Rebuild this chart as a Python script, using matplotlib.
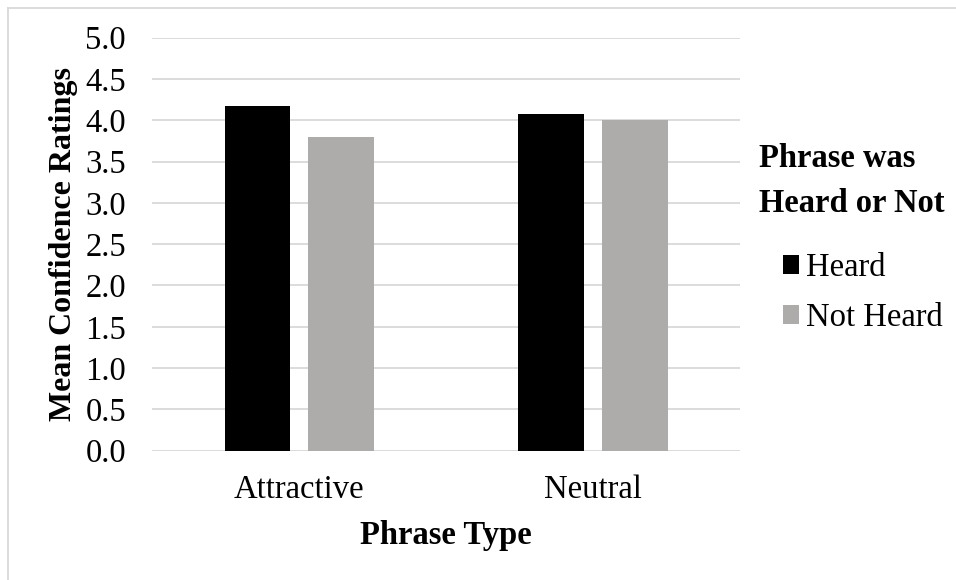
import matplotlib
matplotlib.use("Agg")
import matplotlib.pyplot as plt
from matplotlib.lines import Line2D
import numpy as np

categories = ["Attractive", "Neutral"]
series_names = ["Heard", "Not Heard"]
heard = [4.17, 4.08]
not_heard = [3.80, 4.00]
y_ticks = [0.0, 0.5, 1.0, 1.5, 2.0, 2.5, 3.0, 3.5, 4.0, 4.5, 5.0]
legend_title = ["Phrase was", "Heard or Not"]

plt.rcParams["font.family"] = ["Liberation Serif", "DejaVu Serif"]

W, H = 956, 580
fig = plt.figure(figsize=(W / 100, H / 100), dpi=100)
ax_left, ax_right, ax_top, ax_bottom = 152.3, 740.0, 37.7, 450.7
ax = fig.add_axes([ax_left / W, 1 - ax_bottom / H, (ax_right - ax_left) / W, (ax_bottom - ax_top) / H])

x = np.arange(len(categories))
width = 0.2235
offset = 0.1425
ax.bar(x - offset, heard, width, color="#000000", label=series_names[0], zorder=3)
ax.bar(x + offset, not_heard, width, color="#AEABAB", label=series_names[1], zorder=3)

ax.set_xlim(-0.5, 1.5)
ax.set_ylim(0, 5.0)
ax.set_yticks(y_ticks)
ax.set_yticklabels([f"{v:.1f}" for v in y_ticks])
ax.set_xticks(x)
ax.set_xticklabels(categories)
ax.tick_params(axis="both", length=0, labelsize=23.5)
ax.tick_params(axis="y", pad=19)
ax.tick_params(axis="x", pad=17)
for s in ax.spines.values():
    s.set_visible(False)
ax.yaxis.grid(True, color="#D9D9D9", linewidth=1.3, zorder=0)
ax.set_axisbelow(True)

ax.set_ylabel("Mean Confidence Ratings", fontsize=23, fontweight="bold", labelpad=5)
ax.set_xlabel("Phrase Type", fontsize=23.5, fontweight="bold", labelpad=11)

# legend title, two bold lines
fig.text(759 / W, 1 - 167 / H, legend_title[0], fontsize=23.5, fontweight="bold", va="baseline", ha="left")
fig.text(759 / W, 1 - 212 / H, legend_title[1], fontsize=23.5, fontweight="bold", va="baseline", ha="left")

ax_w = ax_right - ax_left
ax_h = ax_bottom - ax_top
ax.legend(
    fontsize=23.5,
    frameon=False,
    loc="center left",
    bbox_to_anchor=((783 - ax_left) / ax_w, (ax_bottom - 293) / ax_h),
    handlelength=0.5,
    handleheight=0.5,
    handletextpad=0.21,
    labelspacing=0.6,
    borderpad=0.0,
    borderaxespad=0.0,
)

# outer frame of the chart area (top and left edges)
fig.add_artist(Line2D([7.5 / W, 1], [1 - 7.5 / H, 1 - 7.5 / H], color="#D9D9D9", linewidth=1.3))
fig.add_artist(Line2D([7.5 / W, 7.5 / W], [0, 1 - 7.5 / H], color="#D9D9D9", linewidth=1.3))

fig.savefig("out.png", dpi=100)
